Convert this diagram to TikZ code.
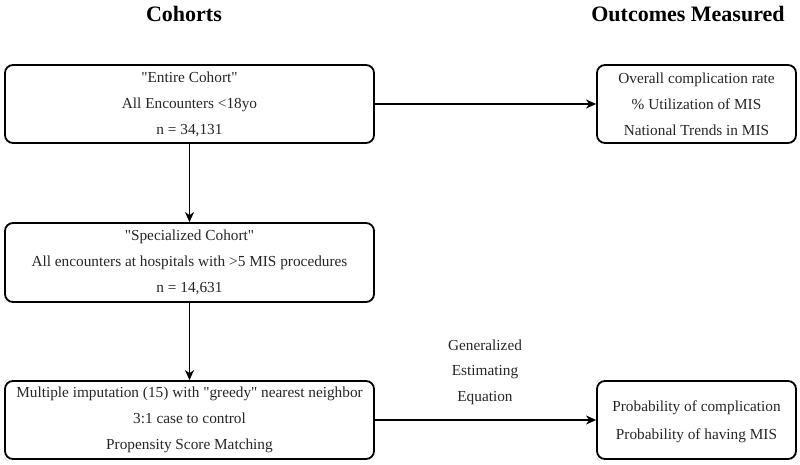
\documentclass[tikz,border=0pt]{standalone}
\usepackage{fontspec}
\setmainfont{Liberation Serif}[Ligatures=TeXOff]
\usetikzlibrary{arrows.meta}
\begin{document}
\begin{tikzpicture}[x=1pt,y=-1pt,
  box/.style={draw, line width=1.8pt, rounded corners=8pt, align=center, font=\fontsize{15.3}{26}\selectfont, text=black!85, inner sep=0pt},
  title/.style={font=\fontsize{22}{24}\selectfont\bfseries},
  lbl/.style={align=center, font=\fontsize{15.3}{25.5}\selectfont, text=black!85},
  conn/.style={line width=1.1pt, -{Stealth[length=10pt,width=9pt,inset=3pt]}}]
\useasboundingbox (0,0) rectangle (800,465);
\node[title] (t1) at (184,14) {Cohorts};
\node[title] (t2) at (688,14) {Outcomes Measured};
\node[box, minimum width=369pt, minimum height=78pt] (b1) at (189.5,104) {"Entire Cohort"\\All Encounters <18yo\\n = 34,131};
\node[box, minimum width=369pt, minimum height=79pt] (b2) at (189.5,262.5) {"Specialized Cohort"\\All encounters at hospitals with >5 MIS procedures\\n = 14,631};
\node[box, minimum width=369pt, minimum height=78pt] (b3) at (189.5,420) {Multiple imputation (15) with "greedy" nearest neighbor\\3:1 case to control\\Propensity Score Matching};
\node[box, minimum width=199pt, minimum height=78pt] (b4) at (696.5,104) {Overall complication rate\\\% Utilization of MIS\\National Trends in MIS};
\node[box, minimum width=199pt, minimum height=78pt] (b5) at (696.5,420) {};
\node[lbl, font=\fontsize{15.3}{28}\selectfont] (b5t) at ([yshift=-2pt]b5.center) {Probability of complication\\Probability of having MIS};
\node[lbl] (gee) at (485,372) {Generalized\\Estimating\\Equation};
\draw[conn] (b1) -- (b4);
\draw[conn] (b1) -- (b2);
\draw[conn] (b2) -- (b3);
\draw[conn] (b3) -- (b5);
\end{tikzpicture}
\end{document}
